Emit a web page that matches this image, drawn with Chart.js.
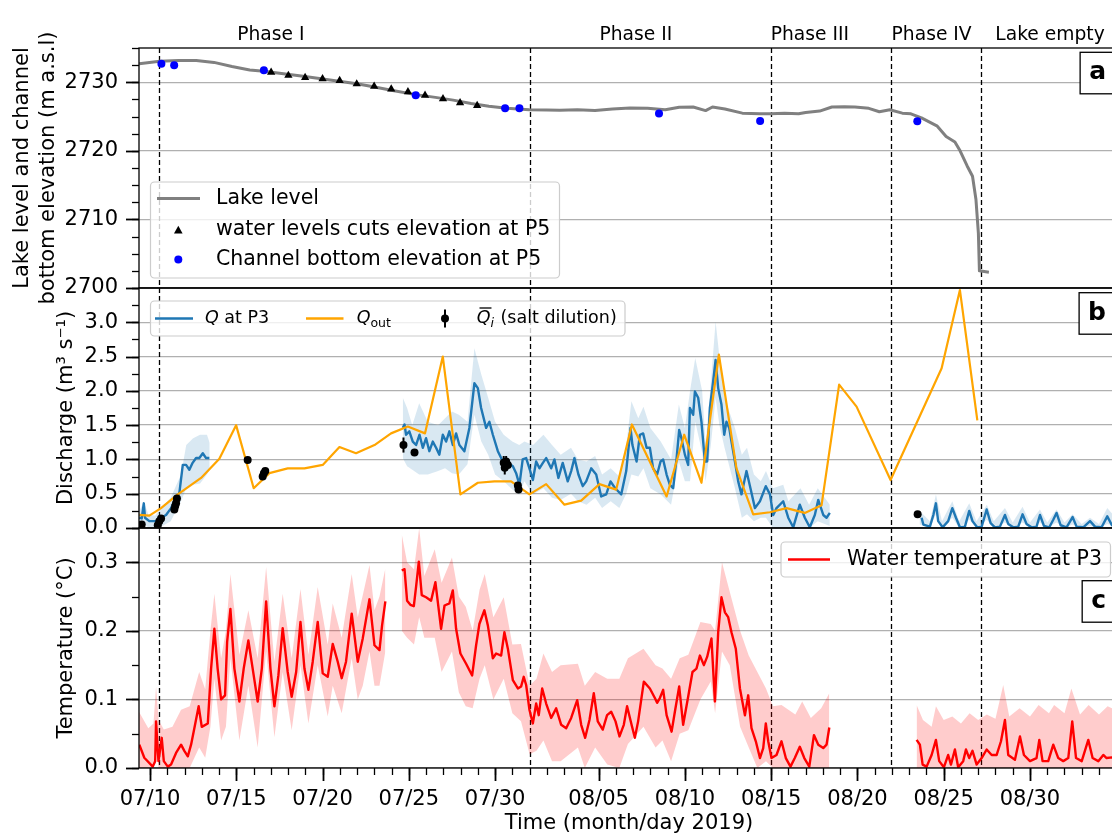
<!DOCTYPE html>
<html>
<head>
<meta charset="utf-8">
<script src="https://cdn.jsdelivr.net/npm/chart.js@4.4.0/dist/chart.umd.min.js"></script>
<style>
html, body { margin: 0; padding: 0; background: #fff; overflow: hidden; }
#wrap { position: relative; width: 1112px; height: 835px; overflow: hidden; }
#wrap canvas { position: absolute; left: 0; top: 0; }
</style>
</head>
<body>
<div id="wrap">
  <canvas id="lakeChart" width="1130" height="835"></canvas>
  <canvas id="dischargeChart" width="1130" height="835"></canvas>
  <canvas id="tempChart" width="1130" height="835"></canvas>
</div>
<script>
// x values are days counted from 30 June 2019 (07/10 = 10, 08/05 = 36)
const xTickDays = [10, 15, 20, 25, 30, 36, 41, 46, 51, 56, 61];
const xTickLabels = ['07/10', '07/15', '07/20', '07/25', '07/30', '08/05', '08/10', '08/15', '08/20', '08/25', '08/30'];
const phaseNames = ['Phase I', 'Phase II', 'Phase III', 'Phase IV', 'Lake empty'];
const phaseLabelDays = [17.0, 38.16, 48.24, 55.3, 62.16];
const phaseBounds = [10.54, 32.0, 45.97, 52.92, 58.16];

// panel a
const lakeDay = [9.37, 10.56, 11.65, 12.68, 13.71, 14.75, 15.78, 16.6, 17.85, 18.88, 19.92, 20.95, 21.99, 23.02, 24.06, 25.4, 26.54, 27.57, 28.61, 29.64, 30.68, 31.98, 33.0, 33.75, 34.77, 35.79, 36.8, 37.82, 38.84, 39.86, 40.67, 41.48, 42.2, 42.6, 43.32, 44.33, 45.35, 45.96, 46.78, 47.59, 48.0, 48.81, 49.52, 50.24, 50.85, 51.66, 52.27, 52.88, 53.6, 54.1, 54.71, 55.63, 56.14, 56.65, 56.95, 57.36, 57.67, 57.87, 58.01, 58.07, 58.62];
const lakeLevel = [2732.7, 2733.06, 2733.16, 2733.16, 2732.9, 2732.3, 2731.8, 2731.6, 2731.2, 2730.87, 2730.5, 2730.15, 2729.8, 2729.3, 2728.8, 2728.2, 2727.8, 2727.4, 2726.9, 2726.5, 2726.2, 2726.0, 2725.95, 2725.92, 2726.0, 2725.9, 2726.1, 2726.26, 2726.2, 2726.0, 2726.36, 2726.4, 2725.87, 2726.4, 2726.1, 2725.5, 2725.4, 2725.4, 2725.5, 2725.4, 2725.6, 2725.8, 2726.4, 2726.45, 2726.4, 2726.2, 2725.7, 2726.0, 2725.5, 2725.4, 2724.8, 2723.6, 2722.1, 2721.3, 2720.0, 2717.8, 2716.3, 2712.9, 2708.0, 2702.5, 2702.3];
const cutDay = [17.02, 18.02, 18.99, 20.0, 20.99, 21.98, 22.99, 23.98, 24.95, 25.94, 26.98, 27.97, 28.96];
const cutLevel = [2731.46, 2731.0, 2730.7, 2730.5, 2730.24, 2729.76, 2729.4, 2729.0, 2728.6, 2728.1, 2727.6, 2727.0, 2726.6];
const bedDay = [10.66, 11.4, 16.6, 25.4, 30.58, 31.41, 39.5, 45.36, 54.47];
const bedLevel = [2732.7, 2732.5, 2731.75, 2728.1, 2726.2, 2726.2, 2725.45, 2724.35, 2724.3];

// panel b
const qDay = [9.38, 9.52, 9.64, 9.71, 9.96, 10.35, 10.64, 10.93, 11.22, 11.51, 11.7, 11.9, 12.09, 12.28, 12.47, 12.67, 12.86, 13.06, 13.25, 13.44,
  19.0,
  24.65, 24.75, 24.84, 25.03, 25.23, 25.42, 25.62, 25.81, 26.0, 26.19, 26.39, 26.58, 26.77, 26.97, 27.16, 27.35, 27.55, 27.74, 27.93, 28.22, 28.51, 28.8, 29.0, 29.19, 29.48, 29.67, 29.87, 30.16, 30.45, 30.74, 31.03, 31.22, 31.41, 31.6, 31.8, 31.99, 32.19, 32.38, 32.57, 32.77, 32.96, 33.25, 33.44, 33.67, 33.92, 34.21, 34.41, 34.6, 34.83, 35.08, 35.28, 35.57, 35.86, 36.15, 36.44, 36.69, 36.96, 37.31, 37.6, 37.85, 37.96, 38.2, 38.39, 38.58, 38.78, 38.97, 39.16, 39.39, 39.59, 39.74, 39.94, 40.13, 40.32, 40.52, 40.67, 40.8, 41.0, 41.19, 41.29, 41.48, 41.58, 41.77, 41.96, 42.16, 42.29, 42.45, 42.64, 42.78, 42.93, 43.12, 43.28, 43.41, 43.57, 43.7, 43.9, 44.09, 44.28, 44.57, 44.8, 45.06, 45.35, 45.69, 45.93, 46.12, 46.31, 46.7, 46.99, 47.28, 47.66, 47.95, 48.24, 48.53, 48.73, 49.02, 49.21, 49.4,
  52.0,
  54.72, 54.82, 55.2, 55.4, 55.55, 55.68, 55.94, 56.26, 56.5, 56.71, 56.94, 57.23, 57.48, 57.67, 57.94, 58.2, 58.49, 58.72, 58.97, 59.26, 59.55, 59.74, 60.03, 60.32, 60.57, 60.8, 61.09, 61.38, 61.58, 61.81, 62.12, 62.35, 62.54, 62.78, 63.12, 63.47, 63.7, 64.09, 64.48, 64.77, 65.15, 65.48, 65.75, 66.16];
const qVal = [0.15, 0.14, 0.36, 0.15, 0.1, 0.1, 0.15, 0.19, 0.29, 0.44, 0.51, 0.92, 0.92, 0.85, 0.95, 1.02, 1.02, 1.09, 1.02, 1.02,
  null,
  1.46, 1.51, 1.36, 1.41, 1.26, 1.21, 1.36, 1.17, 1.31, 1.12, 1.26, 1.17, 1.07, 1.36, 1.26, 1.41, 1.21, 1.38, 1.21, 1.12, 1.46, 2.11, 2.04, 1.75, 1.46, 1.55, 1.36, 1.12, 0.97, 0.95, 0.9, 0.8, 0.63, 1.0, 1.02, 0.87, 0.7, 0.97, 0.87, 0.95, 1.02, 0.87, 1.0, 0.73, 0.95, 0.68, 0.83, 1.02, 0.78, 0.61, 0.68, 0.87, 0.78, 0.46, 0.49, 0.68, 0.58, 0.49, 0.83, 1.46, 1.21, 0.97, 1.36, 1.38, 1.17, 1.17, 0.87, 0.78, 0.97, 1.0, 0.78, 0.63, 0.58, 1.02, 1.43, 1.31, 1.07, 0.92, 1.75, 1.65, 1.99, 1.9, 1.55, 0.97, 0.97, 1.75, 2.14, 2.45, 2.04, 1.8, 1.36, 1.55, 1.46, 1.26, 0.97, 0.68, 0.49, 0.83, 0.58, 0.29, 0.39, 0.61, 0.49, 0.19, 0.29, 0.39, 0.15, 0.01, 0.34, 0.15, 0.01, 0.19, 0.41, 0.19, 0.15, 0.22,
  null,
  0.15, 0.05, 0.02, 0.19, 0.36, 0.1, 0.01, 0.1, 0.29, 0.15, 0.01, 0.02, 0.25, 0.1, 0.01, 0.02, 0.27, 0.07, 0.01, 0.02, 0.19, 0.06, 0.01, 0.02, 0.2, 0.06, 0.01, 0.02, 0.19, 0.03, 0.01, 0.12, 0.22, 0.04, 0.01, 0.16, 0.02, 0.01, 0.1, 0.02, 0.01, 0.17, 0.04, 0.05];
const qBandDay = [9.36, 9.64, 9.9, 10.3, 10.64, 11.2, 11.8, 12.1, 12.5, 12.9, 13.3, 13.46,
  19.0,
  24.65, 24.9, 25.2, 25.6, 26.1, 26.7, 27.1, 27.5, 27.9, 28.4, 28.8, 29.2, 29.6, 30.0, 30.5, 31.0, 31.4, 31.7, 32.2, 32.8, 33.3, 33.8, 34.4, 34.8, 35.3, 35.8, 36.2, 36.7, 37.2, 37.6, 37.9, 38.3, 38.6, 39.0, 39.6, 40.2, 40.65, 41.0, 41.3, 41.6, 42.0, 42.2, 42.5, 42.78, 43.0, 43.3, 43.9, 44.3, 44.6, 45.0, 45.4, 45.7, 46.1, 46.7, 47.0, 47.7, 48.2, 48.7, 49.4,
  52.0,
  54.6, 55.2, 55.55, 55.9, 56.5, 56.9, 57.48, 57.9, 58.5, 58.9, 59.55, 60.0, 60.57, 61.0, 61.58, 62.0, 62.54, 63.0, 63.47, 64.0, 64.48, 65.0, 65.48, 66.2];
const qBandLo = [0.02, 0.05, 0.01, 0.0, 0.02, 0.1, 0.39, 0.58, 0.63, 0.65, 0.78, 0.85,
  null,
  1.02, 0.9, 0.85, 0.78, 0.78, 0.83, 0.87, 0.8, 0.78, 0.93, 1.65, 1.26, 1.07, 0.78, 0.68, 0.56, 0.49, 0.68, 0.49, 0.58, 0.44, 0.41, 0.5, 0.39, 0.34, 0.44, 0.29, 0.39, 0.29, 0.5, 0.78, 0.75, 0.87, 0.58, 0.49, 0.34, 0.97, 0.68, 0.68, 1.55, 1.1, 0.68, 1.2, 1.9, 1.5, 1.17, 0.58, 0.15, 0.2, 0.1, 0.15, 0.15, 0.0, 0.0, 0.0, 0.0, 0.0, 0.1, 0.03,
  null,
  0.05, 0.0, 0.2, 0.0, 0.15, 0.0, 0.12, 0.0, 0.12, 0.0, 0.08, 0.0, 0.08, 0.0, 0.08, 0.0, 0.08, 0.0, 0.05, 0.0, 0.03, 0.0, 0.06, 0.0];
const qBandHi = [0.24, 0.38, 0.2, 0.18, 0.29, 0.44, 0.78, 1.21, 1.31, 1.36, 1.36, 1.24,
  null,
  1.9, 1.75, 1.5, 1.82, 1.55, 1.5, 1.6, 1.7, 1.65, 1.55, 2.62, 2.24, 1.9, 1.55, 1.36, 1.26, 1.21, 1.26, 1.21, 1.36, 1.21, 1.07, 1.17, 1.0, 0.97, 1.05, 0.78, 0.87, 0.75, 1.2, 1.85, 1.6, 1.77, 1.46, 1.26, 1.0, 1.8, 1.46, 2.0, 2.48, 2.0, 1.22, 2.1, 3.01, 2.5, 1.9, 1.46, 1.07, 1.17, 0.78, 0.68, 0.83, 0.58, 0.63, 0.39, 0.58, 0.34, 0.58, 0.34,
  null,
  0.25, 0.1, 0.49, 0.1, 0.39, 0.1, 0.36, 0.1, 0.34, 0.1, 0.29, 0.08, 0.31, 0.08, 0.27, 0.08, 0.27, 0.08, 0.2, 0.06, 0.15, 0.06, 0.29, 0.08];
const qOutDay = [9.38, 9.96, 10.64, 11.61, 12.96, 14.02, 14.99, 16.01, 16.92, 17.98, 18.95, 20.01, 20.98, 21.94, 23.01, 23.97, 24.94, 25.94, 26.97, 27.99, 29.0, 29.96, 30.93, 31.99, 32.96, 34.02, 34.99, 36.05, 37.02, 37.93, 39.94, 40.96, 41.96, 42.97, 43.99, 44.96, 45.93, 46.89, 47.95, 48.92, 49.94, 50.95, 52.92, 55.88, 56.94, 57.95];
const qOutVal = [0.19, 0.18, 0.29, 0.49, 0.73, 1.01, 1.5, 0.58, 0.8, 0.87, 0.87, 0.92, 1.18, 1.09, 1.21, 1.38, 1.48, 1.38, 2.5, 0.49, 0.66, 0.68, 0.68, 0.49, 0.64, 0.34, 0.4, 0.64, 0.56, 1.51, 0.46, 1.36, 0.66, 2.53, 0.87, 0.2, 0.23, 0.29, 0.22, 0.33, 2.09, 1.77, 0.7, 2.33, 3.47, 1.57];
const saltDay = [9.52, 10.45, 10.54, 10.64, 11.41, 11.46, 11.51, 11.56, 15.66, 16.53, 16.6, 16.68, 24.69, 25.33, 30.5, 30.56, 30.64, 30.74, 31.32, 31.36, 54.49];
const saltVal = [0.05, 0.04, 0.1, 0.14, 0.27, 0.32, 0.36, 0.43, 0.99, 0.75, 0.8, 0.83, 1.21, 1.1, 0.95, 0.88, 0.97, 0.92, 0.62, 0.56, 0.2];
const saltErr = [0.03, 0.03, 0.03, 0.03, 0.03, 0.03, 0.03, 0.03, 0.03, 0.03, 0.03, 0.03, 0.11, 0.03, 0.1, 0.1, 0.08, 0.04, 0.04, 0.04, 0.02];

// panel c
const tDay = [9.38, 9.67, 10.16, 10.3, 10.35, 10.49, 10.68, 10.8, 11.03, 11.22, 11.51, 11.8, 11.99, 12.19, 12.38, 12.57, 12.82, 13.0, 13.35, 13.54, 13.73, 13.92, 14.12, 14.35, 14.47, 14.66, 14.89, 15.18, 15.43, 15.7, 15.95, 16.24, 16.48, 16.73, 16.98, 17.21, 17.44, 17.69, 17.98, 18.21, 18.47, 18.72, 18.95, 19.18, 19.43, 19.72, 20.01, 20.3, 20.59, 20.88, 21.11, 21.36, 21.69, 22.04, 22.33, 22.72, 23.01, 23.3, 23.45, 23.64,
  24.1,
  24.59, 24.75, 24.9, 25.09, 25.29, 25.42, 25.58, 25.75, 26.0, 26.29, 26.54, 26.87, 27.07, 27.35, 27.55, 27.74, 27.99, 28.32, 28.67, 28.9, 29.09, 29.38, 29.58, 29.87, 30.06, 30.35, 30.54, 30.74, 31.03, 31.32, 31.51, 31.66, 31.8, 31.99, 32.19, 32.38, 32.53, 32.73, 32.96, 33.25, 33.54, 33.83, 34.12, 34.41, 34.76, 34.99, 35.22, 35.47, 35.72, 35.95, 36.24, 36.49, 36.73, 36.98, 37.21, 37.46, 37.65, 37.91, 38.1, 38.29, 38.62, 38.97, 39.26, 39.39, 39.55, 39.74, 39.94, 40.23, 40.42, 40.67, 40.9, 41.19, 41.44, 41.67, 41.87, 42.1, 42.29, 42.54, 42.74, 42.93, 43.12, 43.32, 43.51, 43.7, 43.95, 44.19, 44.48, 44.67, 44.86, 45.11, 45.35, 45.54, 45.69, 45.83, 46.02, 46.31, 46.6, 46.85, 47.12, 47.37, 47.66, 47.92, 48.21, 48.48, 48.73, 49.02, 49.21, 49.37,
  52.0,
  54.43, 54.62, 54.78, 55.01, 55.3, 55.55, 55.74, 56.01, 56.26, 56.42, 56.65, 56.84, 57.13, 57.29, 57.48, 57.67, 57.91, 58.2, 58.49, 58.78, 59.07, 59.32, 59.55, 59.74, 60.13, 60.42, 60.65, 61.0, 61.38, 61.54, 61.73, 62.06, 62.35, 62.64, 62.93, 63.22, 63.45, 63.67, 64.0, 64.38, 64.63, 64.96, 65.25, 65.44, 65.75, 66.16];
const tVal = [0.034, 0.015, 0.002, 0.01, 0.068, 0.01, 0.044, 0.01, 0.002, 0.005, 0.022, 0.034, 0.025, 0.017, 0.034, 0.058, 0.09, 0.06, 0.065, 0.145, 0.203, 0.145, 0.1, 0.106, 0.184, 0.232, 0.145, 0.097, 0.145, 0.186, 0.145, 0.097, 0.145, 0.243, 0.145, 0.09, 0.135, 0.204, 0.14, 0.104, 0.14, 0.213, 0.145, 0.114, 0.155, 0.213, 0.138, 0.133, 0.181, 0.155, 0.131, 0.155, 0.225, 0.155, 0.189, 0.246, 0.179, 0.172, 0.208, 0.243,
  null,
  0.288, 0.29, 0.244, 0.238, 0.236, 0.264, 0.301, 0.252, 0.249, 0.244, 0.271, 0.203, 0.237, 0.24, 0.259, 0.203, 0.167, 0.152, 0.135, 0.179, 0.21, 0.23, 0.208, 0.16, 0.167, 0.164, 0.198, 0.174, 0.128, 0.116, 0.119, 0.133, 0.121, 0.085, 0.065, 0.094, 0.077, 0.116, 0.094, 0.073, 0.087, 0.063, 0.058, 0.073, 0.099, 0.063, 0.044, 0.07, 0.109, 0.068, 0.056, 0.077, 0.082, 0.068, 0.046, 0.063, 0.09, 0.063, 0.044, 0.068, 0.126, 0.116, 0.102, 0.095, 0.102, 0.114, 0.077, 0.053, 0.082, 0.119, 0.063, 0.104, 0.14, 0.145, 0.164, 0.15, 0.162, 0.189, 0.097, 0.198, 0.249, 0.227, 0.22, 0.198, 0.174, 0.116, 0.077, 0.106, 0.058, 0.039, 0.0145, 0.029, 0.065, 0.039, 0.0145, 0.019, 0.039, 0.0145, 0.002, 0.0145, 0.031, 0.0145, 0.002, 0.048, 0.034, 0.029, 0.034, 0.059,
  null,
  0.041, 0.034, 0.005, 0.002, 0.019, 0.041, 0.01, 0.001, 0.019, 0.005, 0.027, 0.001, 0.01, 0.027, 0.0145, 0.025, 0.005, 0.0145, 0.027, 0.019, 0.019, 0.039, 0.07, 0.019, 0.012, 0.046, 0.019, 0.01, 0.0145, 0.041, 0.01, 0.01, 0.034, 0.0145, 0.01, 0.0145, 0.068, 0.0145, 0.01, 0.041, 0.0145, 0.01, 0.019, 0.0145, 0.0155, 0.015];
const tBandDay = [9.36, 9.9, 10.2, 10.35, 10.5, 10.8, 11.3, 11.8, 12.3, 12.85, 13.2, 13.5, 13.73, 14.12, 14.4, 14.66, 15.18, 15.7, 16.24, 16.73, 17.21, 17.69, 18.21, 18.72, 19.18, 19.72, 20.3, 20.59, 21.11, 21.69, 22.04, 22.33, 22.72, 23.01, 23.3, 23.64,
  24.1,
  24.59, 24.9, 25.3, 25.6, 25.9, 26.5, 26.9, 27.5, 27.9, 28.3, 28.7, 29.1, 29.4, 29.9, 30.5, 31.0, 31.5, 32.0, 32.4, 32.8, 33.3, 33.8, 34.8, 35.2, 35.8, 36.5, 37.2, 37.7, 38.6, 39.3, 39.7, 40.2, 40.7, 41.2, 41.9, 42.5, 42.75, 43.15, 43.6, 44.2, 44.7, 45.2, 45.7, 46.1, 46.6, 47.4, 47.8, 48.3, 48.9, 49.37,
  52.0,
  54.43, 54.8, 55.3, 55.55, 56.0, 56.5, 57.0, 57.5, 58.0, 58.5, 59.0, 59.45, 59.8, 60.4, 61.0, 61.5, 62.1, 62.4, 63.0, 63.4, 63.9, 64.4, 65.0, 65.5, 66.2];
const tBandLo = [0.0, 0.0, 0.0, 0.03, 0.0, 0.0, 0.0, 0.0, 0.0, 0.03, 0.015, 0.06, 0.13, 0.04, 0.06, 0.16, 0.04, 0.12, 0.03, 0.17, 0.045, 0.14, 0.055, 0.15, 0.065, 0.15, 0.075, 0.12, 0.08, 0.16, 0.1, 0.12, 0.17, 0.12, 0.12, 0.17,
  null,
  0.2, 0.19, 0.18, 0.22, 0.19, 0.19, 0.14, 0.17, 0.11, 0.09, 0.087, 0.13, 0.15, 0.1, 0.13, 0.08, 0.068, 0.02, 0.025, 0.04, 0.01, 0.01, 0.03, 0.0, 0.03, 0.005, 0.0, 0.035, 0.06, 0.03, 0.04, 0.01, 0.05, 0.055, 0.1, 0.126, 0.08, 0.17, 0.15, 0.06, 0.03, 0.0, 0.01, 0.0, 0.0, 0.0, 0.0, 0.0, 0.0, 0.0,
  null,
  0.0, 0.0, 0.0, 0.0, 0.0, 0.0, 0.0, 0.0, 0.0, 0.0, 0.0, 0.0, 0.0, 0.0, 0.0, 0.0, 0.0, 0.0, 0.0, 0.0, 0.0, 0.0, 0.0, 0.0, 0.0];
const tBandHi = [0.082, 0.058, 0.065, 0.119, 0.07, 0.056, 0.06, 0.085, 0.09, 0.14, 0.115, 0.2, 0.254, 0.16, 0.2, 0.283, 0.165, 0.23, 0.16, 0.293, 0.155, 0.254, 0.16, 0.261, 0.165, 0.264, 0.18, 0.24, 0.19, 0.283, 0.22, 0.252, 0.296, 0.23, 0.25, 0.291,
  null,
  0.341, 0.3, 0.29, 0.35, 0.28, 0.319, 0.27, 0.307, 0.25, 0.235, 0.2, 0.26, 0.283, 0.22, 0.249, 0.18, 0.181, 0.12, 0.13, 0.167, 0.14, 0.15, 0.152, 0.12, 0.14, 0.13, 0.13, 0.16, 0.174, 0.15, 0.145, 0.13, 0.16, 0.165, 0.213, 0.21, 0.2, 0.3, 0.257, 0.2, 0.164, 0.14, 0.116, 0.09, 0.092, 0.078, 0.097, 0.073, 0.087, 0.109,
  null,
  0.092, 0.07, 0.06, 0.09, 0.07, 0.075, 0.065, 0.08, 0.07, 0.078, 0.072, 0.121, 0.075, 0.087, 0.075, 0.092, 0.08, 0.092, 0.08, 0.116, 0.078, 0.092, 0.078, 0.09, 0.082];

const X_MIN = 9.362;
const X_MAX = 66.16;
const FONT = "'DejaVu Sans', sans-serif";

const panelTicks = {
    a: { major: [2700, 2710, 2720, 2730], minorStep: 2.5, min: 2700, max: 2735 },
    b: { major: [0, 0.5, 1, 1.5, 2, 2.5, 3], minorStep: 0.25, min: 0, max: 3.5 },
    c: { major: [0, 0.1, 0.2, 0.3], minorStep: 0.05, min: 0, max: 0.35 }
};

function toPoints(xs, ys) {
    return xs.map((x, i) => ({ x: x, y: ys[i] }));
}

function roundRect(ctx, x, y, w, h, r) {
    ctx.beginPath();
    ctx.moveTo(x + r, y);
    ctx.arcTo(x + w, y, x + w, y + h, r);
    ctx.arcTo(x + w, y + h, x, y + h, r);
    ctx.arcTo(x, y + h, x, y, r);
    ctx.arcTo(x, y, x + w, y, r);
    ctx.closePath();
}

function legendFrame(ctx, x, y, w, h) {
    roundRect(ctx, x, y, w, h, 4);
    ctx.fillStyle = 'rgba(255,255,255,0.8)';
    ctx.fill();
    ctx.strokeStyle = '#cccccc';
    ctx.lineWidth = 1.2;
    ctx.stroke();
}

function hLine(ctx, x1, x2, y, color, width) {
    ctx.strokeStyle = color;
    ctx.lineWidth = width;
    ctx.beginPath();
    ctx.moveTo(x1, y);
    ctx.lineTo(x2, y);
    ctx.stroke();
}

function letterBox(ctx, letter, top) {
    ctx.font = 'bold 25px ' + FONT;
    const w = ctx.measureText(letter).width + 18;
    const right = 1115;
    ctx.fillStyle = '#fff';
    ctx.fillRect(right - w, top, w, 41.5);
    ctx.strokeStyle = '#000';
    ctx.lineWidth = 1.3;
    ctx.strokeRect(right - w, top, w, 41.5);
    ctx.fillStyle = '#000';
    ctx.textAlign = 'center';
    ctx.textBaseline = 'middle';
    ctx.fillText(letter, right - w / 2, top + 20.5);
}

function drawLakeLegend(ctx) {
    legendFrame(ctx, 150.5, 182, 409, 96);
    hLine(ctx, 157, 200, 198.5, '#808080', 3);
    ctx.fillStyle = '#000';
    ctx.beginPath();
    ctx.moveTo(178.3, 225.8);
    ctx.lineTo(182.6, 233.4);
    ctx.lineTo(174, 233.4);
    ctx.closePath();
    ctx.fill();
    ctx.fillStyle = '#0000ff';
    ctx.beginPath();
    ctx.arc(178.3, 259.5, 4, 0, Math.PI * 2);
    ctx.fill();
    ctx.fillStyle = '#000';
    ctx.font = '20.5px ' + FONT;
    ctx.textAlign = 'left';
    ctx.textBaseline = 'middle';
    ctx.fillText('Lake level', 216, 198.5);
    ctx.fillText('water levels cuts elevation at P5', 216, 229.5);
    ctx.fillText('Channel bottom elevation at P5', 216, 259.5);
}

function drawDischargeLegend(ctx) {
    const rowY = 318.5;
    legendFrame(ctx, 150.5, 301, 474.5, 35);
    hLine(ctx, 155, 193, rowY, '#1f77b4', 2.3);
    hLine(ctx, 306, 343.5, rowY, '#ffa500', 2.3);
    ctx.strokeStyle = '#000';
    ctx.lineWidth = 2;
    ctx.beginPath();
    ctx.moveTo(445, rowY - 9);
    ctx.lineTo(445, rowY + 9);
    ctx.stroke();
    ctx.fillStyle = '#000';
    ctx.beginPath();
    ctx.arc(445, rowY, 4, 0, Math.PI * 2);
    ctx.fill();

    ctx.textAlign = 'left';
    ctx.textBaseline = 'middle';
    const italic = 'italic 17.5px ' + FONT;
    const upright = '17.5px ' + FONT;
    const small = '12.5px ' + FONT;
    const smallItalic = 'italic 12.5px ' + FONT;

    ctx.font = italic;
    ctx.fillText('Q', 205, rowY);
    const qw = ctx.measureText('Q').width;
    ctx.font = upright;
    ctx.fillText(' at P3', 205 + qw, rowY);

    ctx.font = italic;
    ctx.fillText('Q', 356.7, rowY);
    ctx.font = small;
    ctx.fillText('out', 356.7 + qw, rowY + 5);

    ctx.font = italic;
    ctx.fillText('Q', 476.7, rowY);
    hLine(ctx, 479.5, 476.7 + qw + 1, rowY - 10.5, '#000', 1.3);
    ctx.font = smallItalic;
    ctx.fillText('i', 476.7 + qw, rowY + 5);
    const iw = ctx.measureText('i').width;
    ctx.font = upright;
    ctx.fillText(' (salt dilution)', 476.7 + qw + iw + 1, rowY);
}

function drawTempLegend(ctx) {
    legendFrame(ctx, 781, 542, 329.5, 35);
    hLine(ctx, 788, 830, 559.5, '#ff0000', 2.3);
    ctx.fillStyle = '#000';
    ctx.font = '20.5px ' + FONT;
    ctx.textAlign = 'left';
    ctx.textBaseline = 'middle';
    ctx.fillText('Water temperature at P3', 847, 559.5);
}

function drawPhaseLabels(ctx, xScale) {
    ctx.fillStyle = '#000';
    ctx.font = '18.7px ' + FONT;
    ctx.textAlign = 'center';
    ctx.textBaseline = 'middle';
    phaseNames.forEach((name, i) => {
        ctx.fillText(name, xScale.getPixelForValue(phaseLabelDays[i]), 35);
    });
}

function drawSaltErrors(ctx, scales) {
    ctx.strokeStyle = '#000';
    ctx.lineWidth = 2;
    saltDay.forEach((d, i) => {
        const px = scales.x.getPixelForValue(d);
        ctx.beginPath();
        ctx.moveTo(px, scales.y.getPixelForValue(saltVal[i] - saltErr[i]));
        ctx.lineTo(px, scales.y.getPixelForValue(saltVal[i] + saltErr[i]));
        ctx.stroke();
    });
}

function drawYTicks(ctx, area, yScale, spec) {
    ctx.strokeStyle = '#000';
    ctx.lineWidth = 1.3;
    for (let v = spec.min; v <= spec.max + 1e-9; v += spec.minorStep) {
        const py = Math.round(yScale.getPixelForValue(v)) + 0.5;
        ctx.beginPath();
        ctx.moveTo(area.left - 7, py);
        ctx.lineTo(area.left, py);
        ctx.stroke();
    }
    ctx.lineWidth = 1.8;
    spec.major.forEach(v => {
        const py = Math.round(yScale.getPixelForValue(v)) + 0.5;
        ctx.beginPath();
        ctx.moveTo(area.left - 13, py);
        ctx.lineTo(area.left, py);
        ctx.stroke();
    });
}

function drawXTicks(ctx, area, xScale) {
    ctx.strokeStyle = '#000';
    ctx.lineWidth = 1.3;
    for (let d = 10; d <= 66; d++) {
        const px = Math.round(xScale.getPixelForValue(d)) + 0.5;
        ctx.beginPath();
        ctx.moveTo(px, area.bottom);
        ctx.lineTo(px, area.bottom + 7);
        ctx.stroke();
    }
    ctx.lineWidth = 1.8;
    xTickDays.forEach(d => {
        const px = Math.round(xScale.getPixelForValue(d)) + 0.5;
        ctx.beginPath();
        ctx.moveTo(px, area.bottom);
        ctx.lineTo(px, area.bottom + 13);
        ctx.stroke();
    });
}

const panelDecor = {
    id: 'panelDecor',
    beforeDatasetsDraw(chart) {
        const { ctx, chartArea: area, scales } = chart;
        ctx.save();
        ctx.strokeStyle = '#000';
        ctx.lineWidth = 1.3;
        ctx.setLineDash([5, 3]);
        phaseBounds.forEach(d => {
            const px = Math.round(scales.x.getPixelForValue(d)) + 0.5;
            ctx.beginPath();
            ctx.moveTo(px, area.top);
            ctx.lineTo(px, area.bottom);
            ctx.stroke();
        });
        ctx.restore();
    },
    afterDatasetsDraw(chart, args, opts) {
        const { ctx, chartArea: area, scales } = chart;
        const panel = opts.panel;
        ctx.save();
        if (panel === 'b') drawSaltErrors(ctx, scales);

        ctx.strokeStyle = '#000';
        ctx.lineWidth = 1.3;
        ctx.strokeRect(area.left, area.top, area.right - area.left, area.bottom - area.top);
        drawYTicks(ctx, area, scales.y, panelTicks[panel]);

        if (panel === 'a') {
            drawPhaseLabels(ctx, scales.x);
            drawLakeLegend(ctx);
            letterBox(ctx, 'a', 52.3);
        } else if (panel === 'b') {
            drawDischargeLegend(ctx);
            letterBox(ctx, 'b', 292.7);
        } else {
            drawXTicks(ctx, area, scales.x);
            drawTempLegend(ctx);
            letterBox(ctx, 'c', 580.7);
        }
        ctx.restore();
    }
};

function yAxis(panel, step, title, titlePad) {
    const spec = panelTicks[panel];
    return {
        type: 'linear',
        min: spec.min,
        max: spec.max,
        afterFit: scale => { scale.width = 139; },
        afterBuildTicks: scale => {
            scale.ticks = scale.ticks.filter(t => t.value < spec.max - step / 10);
        },
        grid: { color: '#b0b0b0', lineWidth: 1.3, drawTicks: false },
        border: { display: false },
        ticks: {
            stepSize: step,
            includeBounds: false,
            padding: 21,
            color: '#000',
            font: { family: FONT, size: 21 },
            callback: v => panel === 'a' ? String(v) : Number(v).toFixed(1)
        },
        title: {
            display: true,
            text: title,
            color: '#000',
            font: { family: FONT, size: 21, lineHeight: 1.2 },
            padding: { top: titlePad, bottom: 0 }
        }
    };
}

function hiddenX() {
    return { type: 'linear', display: false, min: X_MIN, max: X_MAX };
}

function baseOptions(panel, top, bottom, scales) {
    return {
        responsive: false,
        animation: false,
        devicePixelRatio: 1,
        events: [],
        layout: { padding: { top: top, bottom: bottom, left: 0, right: 11 } },
        plugins: {
            legend: { display: false },
            tooltip: { enabled: false },
            panelDecor: { panel: panel }
        },
        scales: scales
    };
}

function lineSet(points, color, width) {
    return {
        data: points,
        showLine: true,
        borderColor: color,
        borderWidth: width,
        borderJoinStyle: 'round',
        pointRadius: 0,
        tension: 0,
        spanGaps: false,
        fill: false
    };
}

function bandSet(points, color, target) {
    return {
        data: points,
        showLine: true,
        borderColor: 'rgba(0,0,0,0)',
        borderWidth: 0,
        pointRadius: 0,
        tension: 0,
        spanGaps: false,
        backgroundColor: color,
        fill: target === null ? false : { target: target }
    };
}

function markerSet(points, color, style, radius) {
    return {
        data: points,
        showLine: false,
        pointStyle: style,
        pointRadius: radius,
        pointBackgroundColor: color,
        pointBorderColor: color,
        pointBorderWidth: 0
    };
}

function renderLakeChart() {
    new Chart(document.getElementById('lakeChart'), {
        type: 'scatter',
        data: {
            datasets: [
                markerSet(toPoints(bedDay, bedLevel), '#0000ff', 'circle', 4),
                markerSet(toPoints(cutDay, cutLevel), '#000000', 'triangle', 4.8),
                lineSet(toPoints(lakeDay, lakeLevel), '#808080', 3)
            ]
        },
        options: baseOptions('a', 48, 835 - 288, {
            x: hiddenX(),
            y: yAxis('a', 10, ['Lake level and channel', 'bottom elevation (m a.s.l)'], 10.4)
        }),
        plugins: [panelDecor]
    });
}

function renderDischargeChart() {
    new Chart(document.getElementById('dischargeChart'), {
        type: 'scatter',
        data: {
            datasets: [
                markerSet(toPoints(saltDay, saltVal), '#000000', 'circle', 4),
                lineSet(toPoints(qOutDay, qOutVal), '#ffa500', 2.2),
                lineSet(toPoints(qDay, qVal), '#1f77b4', 2.4),
                bandSet(toPoints(qBandDay, qBandLo), 'rgba(0,0,0,0)', null),
                bandSet(toPoints(qBandDay, qBandHi), 'rgba(31,119,180,0.17)', 3)
            ]
        },
        options: baseOptions('b', 288, 835 - 528, {
            x: hiddenX(),
            y: yAxis('b', 0.5, 'Discharge (m³ s⁻¹)', 54.4)
        }),
        plugins: [panelDecor]
    });
}

function renderTempChart() {
    new Chart(document.getElementById('tempChart'), {
        type: 'scatter',
        data: {
            datasets: [
                lineSet(toPoints(tDay, tVal), '#ff0000', 2.4),
                bandSet(toPoints(tBandDay, tBandLo), 'rgba(0,0,0,0)', null),
                bandSet(toPoints(tBandDay, tBandHi), 'rgba(255,0,0,0.2)', 1)
            ]
        },
        options: baseOptions('c', 528, 0, {
            x: {
                type: 'linear',
                position: 'bottom',
                min: X_MIN,
                max: X_MAX,
                afterBuildTicks: scale => {
                    scale.ticks = xTickDays.map(v => ({ value: v }));
                },
                afterFit: scale => { scale.height = 67; },
                grid: { display: false, drawTicks: false },
                border: { display: false },
                ticks: {
                    autoSkip: false,
                    maxRotation: 0,
                    padding: 19,
                    color: '#000',
                    font: { family: FONT, size: 21 },
                    callback: (v, i) => xTickLabels[i]
                },
                title: {
                    display: true,
                    text: 'Time (month/day 2019)',
                    color: '#000',
                    font: { family: FONT, size: 21, lineHeight: 1 },
                    padding: { top: 0, bottom: 1 }
                }
            },
            y: yAxis('c', 0.1, 'Temperature (°C)', 54.4)
        }),
        plugins: [panelDecor]
    });
}

document.addEventListener('DOMContentLoaded', () => {
    renderLakeChart();
    renderDischargeChart();
    renderTempChart();
});
</script>
</body>
</html>
